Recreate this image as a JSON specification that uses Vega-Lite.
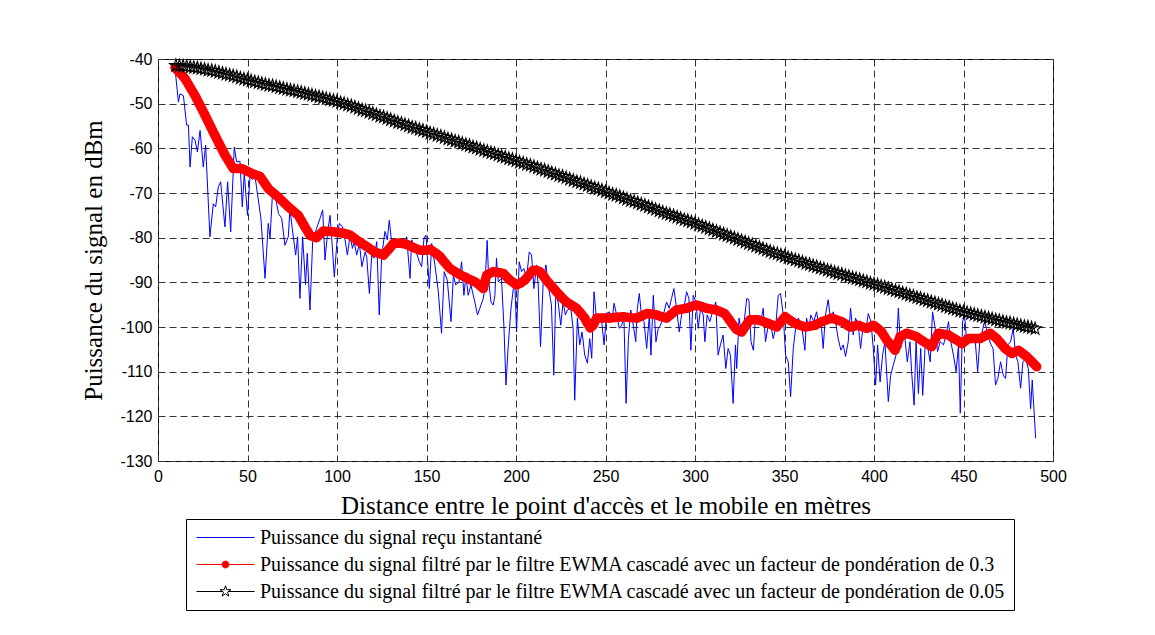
{
"$schema": "https://vega.github.io/schema/vega-lite/v6.json",
"width": 895,
"height": 402,
"autosize": "none",
"padding": {"left": 158, "top": 59, "right": 102, "bottom": 174},
"background": "white",
"datasets": {
"series": [
{"s":"Puissance du signal reçu instantané"},
{"s":"Puissance du signal filtré par le filtre EWMA cascadé avec un facteur de pondération de 0.3"},
{"s":"Puissance du signal filtré par le filtre EWMA cascadé avec un facteur de pondération de 0.05"}
],
"blue": [
{"d":9.5,"p":-42.1},{"d":11.4,"p":-49.6},{"d":12.3,"p":-47.8},{"d":14.2,"p":-48.2},{"d":16.0,"p":-54.8},{"d":17.0,"p":-54.8},{"d":17.9,"p":-64.2},{"d":19.2,"p":-57.4},{"d":20.7,"p":-58.2},{"d":22.0,"p":-60.8},{"d":23.5,"p":-56.0},{"d":25.3,"p":-64.2},{"d":26.6,"p":-59.3},{"d":29.0,"p":-79.8},{"d":30.9,"p":-72.4},{"d":32.2,"p":-73.1},{"d":33.7,"p":-68.6},{"d":35.0,"p":-67.5},{"d":37.4,"p":-77.6},{"d":38.9,"p":-67.5},{"d":40.6,"p":-78.7},{"d":42.6,"p":-59.7},{"d":43.9,"p":-63.0},{"d":45.8,"p":-62.9},{"d":47.1,"p":-73.1},{"d":48.2,"p":-65.6},{"d":50.0,"p":-75.0},{"d":51.4,"p":-66.3},{"d":52.7,"p":-67.0},{"d":54.2,"p":-66.3},{"d":57.5,"p":-75.7},{"d":59.8,"p":-89.1},{"d":61.6,"p":-76.8},{"d":62.6,"p":-80.1},{"d":63.9,"p":-70.5},{"d":65.8,"p":-71.2},{"d":67.3,"p":-74.6},{"d":69.1,"p":-75.7},{"d":70.9,"p":-81.7},{"d":72.8,"p":-79.8},{"d":73.7,"p":-73.5},{"d":75.0,"p":-77.9},{"d":76.9,"p":-83.9},{"d":78.0,"p":-79.8},{"d":79.3,"p":-93.6},{"d":80.8,"p":-79.8},{"d":82.4,"p":-90.5},{"d":83.4,"p":-83.5},{"d":84.9,"p":-96.2},{"d":86.4,"p":-80.9},{"d":88.6,"p":-77.9},{"d":90.5,"p":-75.7},{"d":92.0,"p":-73.8},{"d":93.3,"p":-85.0},{"d":94.6,"p":-79.4},{"d":96.1,"p":-75.0},{"d":97.0,"p":-79.8},{"d":98.5,"p":-88.8},{"d":100.2,"p":-79.8},{"d":101.3,"p":-76.8},{"d":103.0,"p":-77.6},{"d":104.5,"p":-80.5},{"d":105.8,"p":-83.9},{"d":107.3,"p":-79.4},{"d":108.6,"p":-82.4},{"d":109.6,"p":-80.9},{"d":111.0,"p":-83.9},{"d":112.5,"p":-81.3},{"d":113.9,"p":-86.5},{"d":115.7,"p":-83.2},{"d":116.6,"p":-84.3},{"d":118.1,"p":-92.5},{"d":119.4,"p":-83.9},{"d":120.7,"p":-84.6},{"d":122.2,"p":-80.9},{"d":123.6,"p":-97.3},{"d":125.0,"p":-83.9},{"d":126.8,"p":-78.6},{"d":128.1,"p":-80.5},{"d":129.2,"p":-76.1},{"d":130.5,"p":-80.9},{"d":132.4,"p":-82.4},{"d":133.3,"p":-82.0},{"d":135.2,"p":-80.1},{"d":138.0,"p":-82.4},{"d":138.9,"p":-79.8},{"d":140.8,"p":-89.1},{"d":141.7,"p":-80.5},{"d":143.6,"p":-82.4},{"d":146.0,"p":-85.4},{"d":147.3,"p":-86.5},{"d":148.6,"p":-80.1},{"d":149.7,"p":-79.4},{"d":151.6,"p":-91.4},{"d":152.9,"p":-81.3},{"d":154.7,"p":-86.1},{"d":156.6,"p":-92.1},{"d":158.4,"p":-101.4},{"d":159.9,"p":-87.6},{"d":161.6,"p":-89.5},{"d":163.7,"p":-98.8},{"d":165.0,"p":-88.4},{"d":166.3,"p":-90.6},{"d":168.2,"p":-89.9},{"d":169.6,"p":-85.4},{"d":170.9,"p":-92.9},{"d":172.0,"p":-88.4},{"d":173.3,"p":-92.9},{"d":174.8,"p":-90.6},{"d":177.0,"p":-94.4},{"d":178.5,"p":-97.3},{"d":179.8,"p":-95.8},{"d":181.7,"p":-93.6},{"d":182.6,"p":-91.4},{"d":183.9,"p":-80.6},{"d":184.8,"p":-89.9},{"d":186.0,"p":-94.4},{"d":187.3,"p":-95.1},{"d":188.2,"p":-92.9},{"d":189.1,"p":-84.6},{"d":190.1,"p":-89.9},{"d":191.9,"p":-89.1},{"d":193.3,"p":-100.3},{"d":194.4,"p":-113.0},{"d":195.7,"p":-104.0},{"d":197.2,"p":-95.8},{"d":198.5,"p":-91.4},{"d":199.4,"p":-90.6},{"d":200.3,"p":-101.1},{"d":201.8,"p":-85.4},{"d":203.1,"p":-87.6},{"d":204.4,"p":-86.9},{"d":205.9,"p":-89.1},{"d":207.4,"p":-83.2},{"d":208.7,"p":-83.9},{"d":210.0,"p":-91.4},{"d":211.5,"p":-86.1},{"d":212.4,"p":-90.6},{"d":213.7,"p":-104.4},{"d":215.2,"p":-89.9},{"d":216.7,"p":-86.1},{"d":218.3,"p":-91.4},{"d":219.8,"p":-95.1},{"d":221.1,"p":-110.8},{"d":222.2,"p":-92.9},{"d":223.5,"p":-94.4},{"d":225.0,"p":-99.6},{"d":226.3,"p":-94.4},{"d":227.6,"p":-97.3},{"d":228.7,"p":-96.2},{"d":230.6,"p":-95.8},{"d":231.9,"p":-100.3},{"d":232.8,"p":-116.4},{"d":234.3,"p":-98.0},{"d":235.6,"p":-104.0},{"d":236.9,"p":-101.1},{"d":238.4,"p":-106.3},{"d":239.9,"p":-108.1},{"d":241.2,"p":-102.6},{"d":242.3,"p":-107.0},{"d":243.6,"p":-92.1},{"d":245.1,"p":-98.8},{"d":246.6,"p":-97.3},{"d":247.9,"p":-98.8},{"d":249.2,"p":-104.0},{"d":250.6,"p":-97.0},{"d":252.2,"p":-96.6},{"d":253.5,"p":-98.8},{"d":254.8,"p":-94.7},{"d":256.2,"p":-97.3},{"d":257.7,"p":-100.3},{"d":259.0,"p":-99.6},{"d":260.3,"p":-98.0},{"d":261.5,"p":-117.1},{"d":262.8,"p":-102.6},{"d":264.1,"p":-96.2},{"d":265.2,"p":-98.8},{"d":266.9,"p":-103.3},{"d":267.8,"p":-95.8},{"d":268.9,"p":-92.5},{"d":270.2,"p":-98.0},{"d":271.5,"p":-98.8},{"d":273.0,"p":-104.8},{"d":274.5,"p":-97.3},{"d":275.4,"p":-106.3},{"d":276.7,"p":-92.9},{"d":278.2,"p":-103.3},{"d":279.5,"p":-100.3},{"d":280.8,"p":-99.6},{"d":282.3,"p":-97.3},{"d":284.1,"p":-94.4},{"d":285.6,"p":-95.8},{"d":286.9,"p":-93.6},{"d":288.2,"p":-91.4},{"d":289.7,"p":-95.8},{"d":291.2,"p":-101.1},{"d":292.5,"p":-97.3},{"d":293.8,"p":-95.8},{"d":295.3,"p":-92.1},{"d":296.6,"p":-93.6},{"d":297.7,"p":-105.2},{"d":299.0,"p":-92.9},{"d":300.5,"p":-94.4},{"d":301.8,"p":-100.3},{"d":303.1,"p":-95.8},{"d":304.6,"p":-97.3},{"d":305.5,"p":-103.3},{"d":306.8,"p":-97.3},{"d":308.3,"p":-98.8},{"d":309.8,"p":-96.6},{"d":311.6,"p":-94.4},{"d":312.9,"p":-106.3},{"d":314.2,"p":-104.0},{"d":315.7,"p":-101.8},{"d":317.2,"p":-109.3},{"d":318.5,"p":-104.8},{"d":319.8,"p":-106.3},{"d":321.3,"p":-117.1},{"d":322.6,"p":-104.0},{"d":323.3,"p":-109.3},{"d":324.6,"p":-98.0},{"d":326.1,"p":-101.8},{"d":327.6,"p":-98.4},{"d":328.9,"p":-93.6},{"d":330.1,"p":-93.9},{"d":331.3,"p":-103.3},{"d":332.6,"p":-105.2},{"d":333.9,"p":-97.3},{"d":335.3,"p":-99.6},{"d":336.8,"p":-98.8},{"d":338.1,"p":-95.8},{"d":339.4,"p":-103.3},{"d":340.9,"p":-99.6},{"d":342.4,"p":-99.6},{"d":343.7,"p":-102.6},{"d":345.0,"p":-100.3},{"d":346.5,"p":-92.9},{"d":347.8,"p":-92.5},{"d":349.3,"p":-97.3},{"d":350.6,"p":-106.3},{"d":352.1,"p":-107.8},{"d":353.4,"p":-115.6},{"d":354.9,"p":-104.8},{"d":356.2,"p":-100.3},{"d":357.7,"p":-98.0},{"d":359.5,"p":-99.6},{"d":361.4,"p":-105.2},{"d":362.3,"p":-98.0},{"d":363.6,"p":-100.3},{"d":364.7,"p":-97.3},{"d":366.4,"p":-98.8},{"d":367.9,"p":-96.6},{"d":369.2,"p":-99.6},{"d":370.7,"p":-100.3},{"d":371.6,"p":-104.8},{"d":372.9,"p":-97.3},{"d":374.4,"p":-93.9},{"d":375.9,"p":-98.8},{"d":377.2,"p":-96.6},{"d":378.5,"p":-98.8},{"d":380.0,"p":-102.6},{"d":381.5,"p":-105.2},{"d":382.8,"p":-104.0},{"d":384.1,"p":-106.6},{"d":385.6,"p":-103.3},{"d":386.9,"p":-95.8},{"d":388.4,"p":-101.8},{"d":389.7,"p":-98.0},{"d":391.2,"p":-99.6},{"d":392.5,"p":-104.8},{"d":394.0,"p":-99.6},{"d":395.3,"p":-101.1},{"d":396.8,"p":-97.0},{"d":398.3,"p":-98.8},{"d":399.6,"p":-104.8},{"d":400.9,"p":-113.0},{"d":402.0,"p":-104.0},{"d":403.4,"p":-112.3},{"d":404.8,"p":-106.3},{"d":406.1,"p":-103.3},{"d":408.0,"p":-116.7},{"d":409.3,"p":-110.8},{"d":410.8,"p":-108.5},{"d":412.3,"p":-106.3},{"d":413.6,"p":-95.8},{"d":414.9,"p":-104.8},{"d":416.4,"p":-101.1},{"d":417.3,"p":-102.6},{"d":418.6,"p":-107.8},{"d":420.1,"p":-103.3},{"d":421.0,"p":-110.0},{"d":422.4,"p":-117.5},{"d":423.5,"p":-103.3},{"d":424.8,"p":-114.9},{"d":426.1,"p":-104.8},{"d":427.2,"p":-115.3},{"d":428.6,"p":-104.0},{"d":430.1,"p":-104.8},{"d":431.4,"p":-107.8},{"d":432.7,"p":-96.6},{"d":434.2,"p":-100.3},{"d":435.5,"p":-105.5},{"d":437.0,"p":-103.3},{"d":438.8,"p":-104.0},{"d":440.3,"p":-101.8},{"d":441.6,"p":-98.8},{"d":442.9,"p":-103.3},{"d":444.4,"p":-106.3},{"d":445.9,"p":-110.0},{"d":447.2,"p":-104.0},{"d":448.2,"p":-119.3},{"d":449.5,"p":-98.8},{"d":450.6,"p":-97.3},{"d":451.9,"p":-104.0},{"d":453.4,"p":-103.3},{"d":454.7,"p":-101.8},{"d":456.6,"p":-103.3},{"d":457.9,"p":-110.0},{"d":459.1,"p":-103.3},{"d":460.4,"p":-101.1},{"d":461.7,"p":-98.8},{"d":462.8,"p":-100.3},{"d":464.1,"p":-102.6},{"d":465.4,"p":-104.0},{"d":466.5,"p":-104.8},{"d":467.9,"p":-113.0},{"d":469.2,"p":-111.5},{"d":470.7,"p":-107.8},{"d":472.2,"p":-110.8},{"d":473.5,"p":-111.5},{"d":474.8,"p":-104.0},{"d":476.3,"p":-103.3},{"d":477.8,"p":-100.3},{"d":479.1,"p":-106.3},{"d":480.4,"p":-107.8},{"d":481.9,"p":-113.7},{"d":483.2,"p":-107.8},{"d":484.7,"p":-107.0},{"d":486.2,"p":-109.3},{"d":487.5,"p":-118.3},{"d":488.4,"p":-111.9},{"d":490.3,"p":-124.9}
],
"red": [
{"d":9.5,"p":-41.9},{"d":15.1,"p":-44.4},{"d":20.7,"p":-48.2},{"d":26.3,"p":-52.6},{"d":31.8,"p":-57.1},{"d":37.4,"p":-61.5},{"d":42.0,"p":-64.5},{"d":46.7,"p":-64.5},{"d":52.3,"p":-65.6},{"d":57.0,"p":-66.3},{"d":61.6,"p":-69.0},{"d":67.2,"p":-70.9},{"d":72.8,"p":-73.1},{"d":78.4,"p":-75.0},{"d":82.1,"p":-77.6},{"d":85.0,"p":-79.5},{"d":88.6,"p":-80.0},{"d":92.4,"p":-78.5},{"d":96.1,"p":-78.6},{"d":99.8,"p":-78.8},{"d":103.5,"p":-79.0},{"d":107.3,"p":-79.4},{"d":112.0,"p":-80.8},{"d":116.6,"p":-82.0},{"d":121.0,"p":-83.2},{"d":126.0,"p":-83.9},{"d":128.5,"p":-82.8},{"d":131.5,"p":-81.3},{"d":135.0,"p":-81.2},{"d":138.9,"p":-81.5},{"d":142.5,"p":-82.2},{"d":146.4,"p":-82.8},{"d":150.0,"p":-82.8},{"d":152.0,"p":-82.6},{"d":155.6,"p":-83.6},{"d":157.5,"p":-84.2},{"d":160.3,"p":-85.6},{"d":163.1,"p":-86.9},{"d":165.9,"p":-87.6},{"d":168.7,"p":-88.3},{"d":171.5,"p":-88.8},{"d":174.3,"p":-89.4},{"d":177.1,"p":-89.9},{"d":179.5,"p":-90.6},{"d":181.7,"p":-91.4},{"d":183.6,"p":-88.4},{"d":187.3,"p":-87.6},{"d":190.0,"p":-87.8},{"d":192.9,"p":-88.0},{"d":196.6,"p":-89.5},{"d":200.3,"p":-90.6},{"d":202.5,"p":-90.2},{"d":204.9,"p":-89.5},{"d":207.2,"p":-88.4},{"d":209.5,"p":-87.3},{"d":211.5,"p":-87.3},{"d":213.3,"p":-87.6},{"d":215.0,"p":-88.4},{"d":217.0,"p":-89.5},{"d":219.8,"p":-90.8},{"d":222.6,"p":-92.1},{"d":225.4,"p":-93.3},{"d":228.2,"p":-94.4},{"d":231.0,"p":-95.1},{"d":233.8,"p":-95.8},{"d":236.1,"p":-96.9},{"d":238.4,"p":-98.0},{"d":240.0,"p":-99.2},{"d":241.5,"p":-100.2},{"d":243.1,"p":-99.6},{"d":245.1,"p":-98.0},{"d":248.8,"p":-98.0},{"d":252.5,"p":-98.0},{"d":256.2,"p":-97.8},{"d":260.0,"p":-97.7},{"d":263.7,"p":-97.9},{"d":267.5,"p":-98.0},{"d":270.2,"p":-97.5},{"d":273.0,"p":-97.0},{"d":275.8,"p":-97.1},{"d":278.6,"p":-97.3},{"d":281.3,"p":-97.7},{"d":284.1,"p":-98.0},{"d":286.9,"p":-97.1},{"d":289.7,"p":-96.2},{"d":292.5,"p":-96.0},{"d":295.3,"p":-95.8},{"d":298.0,"p":-95.4},{"d":300.8,"p":-95.1},{"d":303.6,"p":-95.4},{"d":306.4,"p":-95.8},{"d":309.2,"p":-96.0},{"d":312.0,"p":-96.2},{"d":314.3,"p":-96.6},{"d":316.6,"p":-97.0},{"d":319.0,"p":-98.3},{"d":321.3,"p":-99.6},{"d":323.0,"p":-100.5},{"d":326.1,"p":-101.1},{"d":328.4,"p":-99.7},{"d":330.7,"p":-98.4},{"d":333.0,"p":-98.4},{"d":335.4,"p":-98.4},{"d":338.2,"p":-98.8},{"d":340.9,"p":-99.2},{"d":343.3,"p":-99.6},{"d":345.6,"p":-100.0},{"d":348.0,"p":-98.8},{"d":350.3,"p":-97.7},{"d":353.1,"p":-98.5},{"d":355.9,"p":-99.2},{"d":358.7,"p":-99.6},{"d":361.5,"p":-100.0},{"d":364.3,"p":-99.8},{"d":367.1,"p":-99.6},{"d":370.8,"p":-98.8},{"d":373.6,"p":-98.4},{"d":376.4,"p":-98.0},{"d":379.2,"p":-98.4},{"d":382.0,"p":-98.8},{"d":384.3,"p":-99.4},{"d":386.6,"p":-100.0},{"d":389.0,"p":-99.8},{"d":391.3,"p":-99.6},{"d":393.6,"p":-100.0},{"d":395.9,"p":-100.3},{"d":397.8,"p":-100.0},{"d":399.6,"p":-99.6},{"d":402.0,"p":-100.3},{"d":404.3,"p":-101.1},{"d":407.1,"p":-102.9},{"d":409.4,"p":-104.0},{"d":411.7,"p":-105.2},{"d":414.5,"p":-102.2},{"d":418.3,"p":-101.4},{"d":421.1,"p":-101.8},{"d":423.9,"p":-102.2},{"d":426.7,"p":-103.0},{"d":429.5,"p":-103.7},{"d":432.2,"p":-104.4},{"d":434.1,"p":-102.9},{"d":436.0,"p":-101.4},{"d":438.8,"p":-101.6},{"d":441.6,"p":-101.8},{"d":443.9,"p":-102.4},{"d":446.2,"p":-102.9},{"d":449.0,"p":-103.7},{"d":452.8,"p":-102.6},{"d":456.0,"p":-102.6},{"d":459.3,"p":-102.6},{"d":462.0,"p":-102.0},{"d":464.9,"p":-101.4},{"d":468.6,"p":-102.6},{"d":471.0,"p":-103.7},{"d":473.2,"p":-104.8},{"d":477.0,"p":-105.9},{"d":480.7,"p":-105.2},{"d":483.0,"p":-105.9},{"d":485.3,"p":-106.6},{"d":489.0,"p":-108.1},{"d":490.9,"p":-108.9}
],
"black": [
{"d":10,"p":-41.5},{"d":12,"p":-41.55},{"d":14,"p":-41.6},{"d":16,"p":-41.7},{"d":18,"p":-41.8},{"d":20,"p":-41.9},{"d":22,"p":-42.0},{"d":24,"p":-42.2},{"d":26,"p":-42.3},{"d":28,"p":-42.5},{"d":30,"p":-42.6},{"d":32,"p":-42.8},{"d":34,"p":-43.0},{"d":36,"p":-43.2},{"d":38,"p":-43.4},{"d":40,"p":-43.6},{"d":42,"p":-43.8},{"d":44,"p":-44.0},{"d":46,"p":-44.3},{"d":48,"p":-44.5},{"d":50,"p":-44.7},{"d":52,"p":-44.9},{"d":54,"p":-45.1},{"d":56,"p":-45.3},{"d":58,"p":-45.5},{"d":60,"p":-45.7},{"d":62,"p":-45.9},{"d":64,"p":-46.0},{"d":66,"p":-46.2},{"d":68,"p":-46.4},{"d":70,"p":-46.6},{"d":72,"p":-46.8},{"d":74,"p":-47.0},{"d":76,"p":-47.1},{"d":78,"p":-47.3},{"d":80,"p":-47.5},{"d":82,"p":-47.7},{"d":84,"p":-47.9},{"d":86,"p":-48.1},{"d":88,"p":-48.3},{"d":90,"p":-48.5},{"d":92,"p":-48.7},{"d":94,"p":-48.9},{"d":96,"p":-49.1},{"d":98,"p":-49.3},{"d":100,"p":-49.5},{"d":102,"p":-49.8},{"d":104,"p":-50.0},{"d":106,"p":-50.3},{"d":108,"p":-50.5},{"d":110,"p":-50.8},{"d":112,"p":-51.1},{"d":114,"p":-51.4},{"d":116,"p":-51.6},{"d":118,"p":-51.9},{"d":120,"p":-52.2},{"d":122,"p":-52.5},{"d":124,"p":-52.8},{"d":126,"p":-53.0},{"d":128,"p":-53.3},{"d":130,"p":-53.6},{"d":132,"p":-53.9},{"d":134,"p":-54.2},{"d":136,"p":-54.4},{"d":138,"p":-54.7},{"d":140,"p":-55.0},{"d":142,"p":-55.3},{"d":144,"p":-55.5},{"d":146,"p":-55.8},{"d":148,"p":-56.0},{"d":150,"p":-56.3},{"d":152,"p":-56.6},{"d":154,"p":-56.8},{"d":156,"p":-57.1},{"d":158,"p":-57.3},{"d":160,"p":-57.6},{"d":162,"p":-57.9},{"d":164,"p":-58.1},{"d":166,"p":-58.4},{"d":168,"p":-58.6},{"d":170,"p":-58.9},{"d":172,"p":-59.2},{"d":174,"p":-59.4},{"d":176,"p":-59.7},{"d":178,"p":-59.9},{"d":180,"p":-60.2},{"d":182,"p":-60.5},{"d":184,"p":-60.7},{"d":186,"p":-61.0},{"d":188,"p":-61.2},{"d":190,"p":-61.5},{"d":192,"p":-61.8},{"d":194,"p":-62.0},{"d":196,"p":-62.3},{"d":198,"p":-62.5},{"d":200,"p":-62.8},{"d":202,"p":-63.1},{"d":204,"p":-63.3},{"d":206,"p":-63.6},{"d":208,"p":-63.8},{"d":210,"p":-64.1},{"d":212,"p":-64.4},{"d":214,"p":-64.7},{"d":216,"p":-64.9},{"d":218,"p":-65.2},{"d":220,"p":-65.5},{"d":222,"p":-65.8},{"d":224,"p":-66.1},{"d":226,"p":-66.3},{"d":228,"p":-66.6},{"d":230,"p":-66.9},{"d":232,"p":-67.2},{"d":234,"p":-67.5},{"d":236,"p":-67.7},{"d":238,"p":-68.0},{"d":240,"p":-68.3},{"d":242,"p":-68.6},{"d":244,"p":-68.9},{"d":246,"p":-69.1},{"d":248,"p":-69.4},{"d":250,"p":-69.7},{"d":252,"p":-70.0},{"d":254,"p":-70.3},{"d":256,"p":-70.5},{"d":258,"p":-70.8},{"d":260,"p":-71.1},{"d":262,"p":-71.4},{"d":264,"p":-71.7},{"d":266,"p":-71.9},{"d":268,"p":-72.2},{"d":270,"p":-72.5},{"d":272,"p":-72.8},{"d":274,"p":-73.1},{"d":276,"p":-73.4},{"d":278,"p":-73.7},{"d":280,"p":-74.0},{"d":282,"p":-74.3},{"d":284,"p":-74.6},{"d":286,"p":-74.8},{"d":288,"p":-75.1},{"d":290,"p":-75.4},{"d":292,"p":-75.7},{"d":294,"p":-76.0},{"d":296,"p":-76.2},{"d":298,"p":-76.5},{"d":300,"p":-76.8},{"d":302,"p":-77.1},{"d":304,"p":-77.4},{"d":306,"p":-77.7},{"d":308,"p":-78.0},{"d":310,"p":-78.3},{"d":312,"p":-78.6},{"d":314,"p":-78.9},{"d":316,"p":-79.2},{"d":318,"p":-79.5},{"d":320,"p":-79.8},{"d":322,"p":-80.1},{"d":324,"p":-80.4},{"d":326,"p":-80.7},{"d":328,"p":-81.0},{"d":330,"p":-81.3},{"d":332,"p":-81.6},{"d":334,"p":-81.9},{"d":336,"p":-82.2},{"d":338,"p":-82.5},{"d":340,"p":-82.8},{"d":342,"p":-83.1},{"d":344,"p":-83.4},{"d":346,"p":-83.6},{"d":348,"p":-83.9},{"d":350,"p":-84.2},{"d":352,"p":-84.5},{"d":354,"p":-84.7},{"d":356,"p":-85.0},{"d":358,"p":-85.2},{"d":360,"p":-85.5},{"d":362,"p":-85.8},{"d":364,"p":-86.0},{"d":366,"p":-86.3},{"d":368,"p":-86.5},{"d":370,"p":-86.8},{"d":372,"p":-87.0},{"d":374,"p":-87.3},{"d":376,"p":-87.5},{"d":378,"p":-87.8},{"d":380,"p":-88.0},{"d":382,"p":-88.2},{"d":384,"p":-88.5},{"d":386,"p":-88.7},{"d":388,"p":-89.0},{"d":390,"p":-89.2},{"d":392,"p":-89.4},{"d":394,"p":-89.7},{"d":396,"p":-89.9},{"d":398,"p":-90.2},{"d":400,"p":-90.4},{"d":402,"p":-90.6},{"d":404,"p":-90.9},{"d":406,"p":-91.1},{"d":408,"p":-91.4},{"d":410,"p":-91.6},{"d":412,"p":-91.9},{"d":414,"p":-92.1},{"d":416,"p":-92.4},{"d":418,"p":-92.6},{"d":420,"p":-92.9},{"d":422,"p":-93.1},{"d":424,"p":-93.4},{"d":426,"p":-93.6},{"d":428,"p":-93.9},{"d":430,"p":-94.1},{"d":432,"p":-94.4},{"d":434,"p":-94.6},{"d":436,"p":-94.9},{"d":438,"p":-95.1},{"d":440,"p":-95.4},{"d":442,"p":-95.6},{"d":444,"p":-95.9},{"d":446,"p":-96.1},{"d":448,"p":-96.4},{"d":450,"p":-96.6},{"d":452,"p":-96.8},{"d":454,"p":-97.0},{"d":456,"p":-97.2},{"d":458,"p":-97.4},{"d":460,"p":-97.6},{"d":462,"p":-97.8},{"d":464,"p":-98.0},{"d":466,"p":-98.2},{"d":468,"p":-98.4},{"d":470,"p":-98.6},{"d":472,"p":-98.8},{"d":474,"p":-99.0},{"d":476,"p":-99.1},{"d":478,"p":-99.3},{"d":480,"p":-99.5},{"d":482,"p":-99.7},{"d":484,"p":-99.9},{"d":486,"p":-100.0},{"d":488,"p":-100.2},{"d":490,"p":-100.4}
]
},
"encoding": {
  "x": {"field": "d", "type": "quantitative",
    "scale": {"domain": [0, 500], "nice": false, "zero": false},
    "axis": {"values": [0,50,100,150,200,250,300,350,400,450,500], "labelPadding": 7, "labelFlush": false, "labelOverlap": false,
      "title": "Distance entre le point d'accès et le mobile en mètres", "titlePadding": 9, "titleFontSize": 25}},
  "y": {"field": "p", "type": "quantitative",
    "scale": {"domain": [-130, -40], "nice": false, "zero": false},
    "axis": {"values": [-130,-120,-110,-100,-90,-80,-70,-60,-50,-40], "labelPadding": 6, "labelFlush": false, "labelOverlap": false,
      "labelExpr": "'' + datum.value",
      "title": "Puissance du signal en dBm", "titlePadding": 13, "titleFontSize": 25}}
},
"layer": [
  {"data": {"name": "blue"},
   "mark": {"type": "line", "strokeWidth": 1, "color": "#0000ff"}},
  {"data": {"name": "red"},
   "mark": {"type": "line", "strokeWidth": 9.5, "strokeCap": "round", "strokeJoin": "round", "color": "#ff0000"}},
  {"data": {"name": "red"},
   "mark": {"type": "point", "filled": true, "size": 75, "opacity": 1, "color": "#ff0000"}},
  {"data": {"name": "black"},
   "mark": {"type": "line", "strokeWidth": 1, "color": "#000000"}},
  {"data": {"name": "black"},
   "mark": {"type": "point", "shape": "M0,-1L0.2245,-0.309L0.951,-0.309L0.363,0.118L0.588,0.809L0,0.382L-0.588,0.809L-0.363,0.118L-0.951,-0.309L-0.2245,-0.309Z", "filled": false, "size": 175, "strokeWidth": 1.1, "opacity": 1, "color": "#000000"}},
  {"data": {"name": "series"},
   "mark": {"type": "point", "filled": false, "strokeWidth": 1, "opacity": 0, "clip": true},
   "encoding": {
     "color": {"field": "s", "type": "nominal",
       "scale": {"domain": ["Puissance du signal reçu instantané", "Puissance du signal filtré par le filtre EWMA cascadé avec un facteur de pondération de 0.3", "Puissance du signal filtré par le filtre EWMA cascadé avec un facteur de pondération de 0.05"],
                 "range": ["#0000ff", "#ff0000", "#000000"]},
       "legend": {"title": null}},
     "shape": {"field": "s", "type": "nominal",
       "scale": {"domain": ["Puissance du signal reçu instantané", "Puissance du signal filtré par le filtre EWMA cascadé avec un facteur de pondération de 0.3", "Puissance du signal filtré par le filtre EWMA cascadé avec un facteur de pondération de 0.05"],
                 "range": ["M-0.8,0L5,0",
                           "M-0.8,0L5,0M1.76,0A0.34,0.34 0 1,1 2.44,0A0.34,0.34 0 1,1 1.76,0Z",
                           "M-0.8,0L1.8,0M2.4,0L5,0M2.1,-0.57L2.228,-0.176L2.642,-0.176L2.307,0.067L2.435,0.461L2.1,0.218L1.765,0.461L1.893,0.067L1.558,-0.176L1.972,-0.176Z"]},
       "legend": {"title": null}},
     "fill": {"field": "s", "type": "nominal",
       "scale": {"domain": ["Puissance du signal reçu instantané", "Puissance du signal filtré par le filtre EWMA cascadé avec un facteur de pondération de 0.3", "Puissance du signal filtré par le filtre EWMA cascadé avec un facteur de pondération de 0.05"],
                 "range": ["transparent", "#ff0000", "#ffffff"]},
       "legend": {"title": null}}
   }}
],
"config": {
  "font": "Liberation Sans",
  "view": {"stroke": "#000000", "strokeWidth": 1},
  "axis": {"grid": true, "gridColor": "#333333", "gridDash": [7, 4], "gridWidth": 1, "gridOpacity": 1,
    "domain": false, "ticks": false,
    "labelFont": "Liberation Sans", "labelFontSize": 16, "labelColor": "#000000",
    "titleFont": "Liberation Serif", "titleFontWeight": "normal", "titleColor": "#000000"},
  "legend": {"orient": "none", "legendX": 28, "legendY": 460, "direction": "vertical",
    "strokeColor": "#000000", "fillColor": "#ffffff", "padding": 8,
    "symbolSize": 400, "symbolStrokeWidth": 1, "symbolOpacity": 1,
    "labelFont": "Liberation Serif", "labelFontSize": 20, "labelColor": "#000000", "labelLimit": 2000, "labelOffset": 45,
    "rowPadding": 6}
}
}
